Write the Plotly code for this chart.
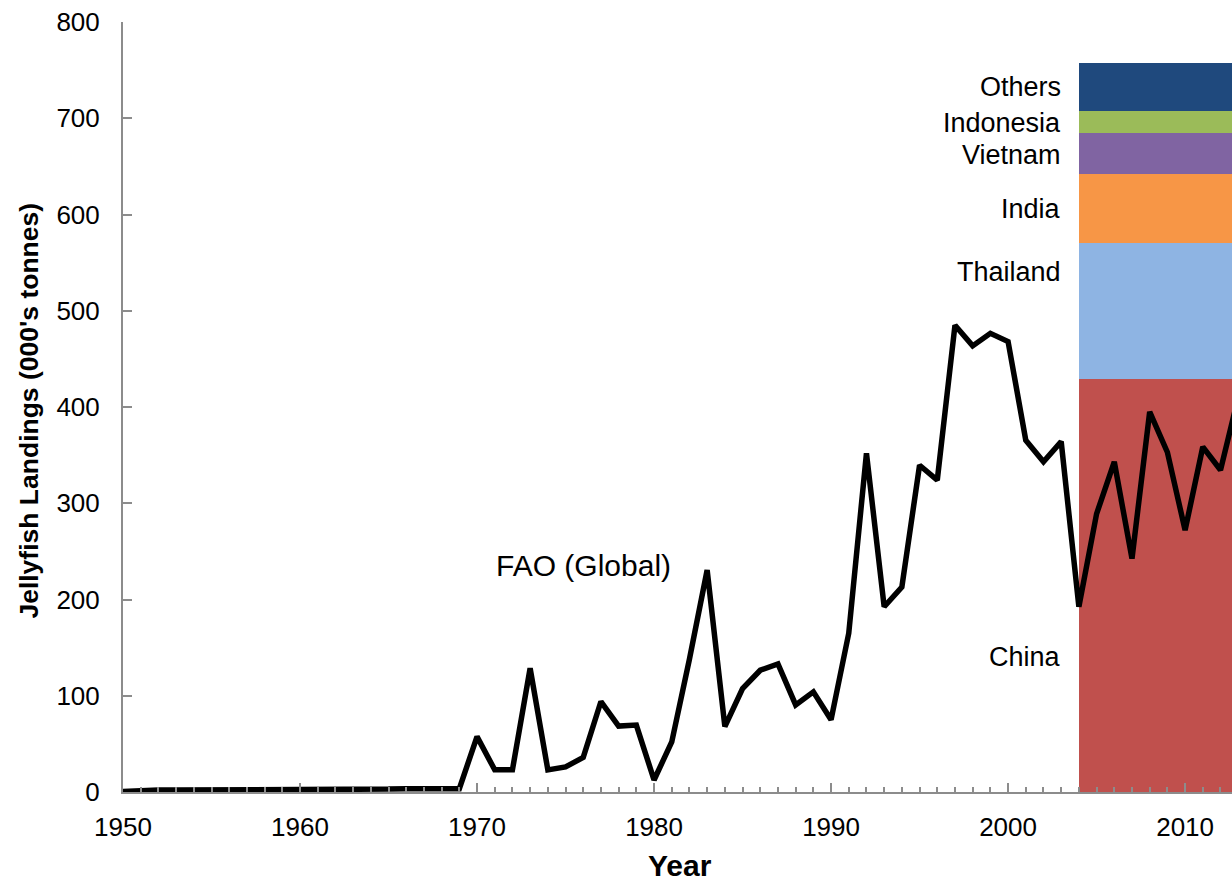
import plotly.graph_objects as go

# Global jellyfish landings reported to FAO, thousand tonnes per year
years = list(range(1950, 2014))
fao_global = [
    0.5, 1.5, 2, 2, 2, 2, 2, 2, 2, 2,          # 1950-1959
    2, 2, 2.5, 2.5, 2.5, 3, 3.5, 3.5, 3.5, 3.5,  # 1960-1969
    57.5, 23, 23, 128.5, 23, 26, 36, 94, 68.5, 69.5,    # 1970-1979
    12.5, 52, 138, 230.5, 68, 107.5, 126.5, 133, 90.5, 104,  # 1980-1989
    75, 165, 352, 192.5, 213, 339.5, 324, 485, 463.5, 476.5,  # 1990-1999
    468, 365.5, 343, 364, 192.5, 289, 343, 242.5, 395, 353,  # 2000-2009
    272, 358.5, 334.5, 410,                        # 2010-2013
]

# Recent landings broken down by country (thousand tonnes), stacked bottom to top
countries = ["China", "Thailand", "India", "Vietnam", "Indonesia", "Others"]
country_landings = [429, 141, 72, 43, 23, 49]
country_colors = ["#C0504D", "#8EB4E3", "#F79646", "#8064A2", "#9BBB59", "#1F497D"]
label_y = [140, 540, 606, 662, 695, 732]

bar_start, bar_end = 2004, 2014

FONT = "Liberation Sans, Arial, sans-serif"
AXIS_GREY = "#8C8C8C"

fig = go.Figure()

for name, val, col in zip(countries, country_landings, country_colors):
    fig.add_trace(go.Bar(
        x=[(bar_start + bar_end) / 2], y=[val], width=[bar_end - bar_start],
        name=name, marker=dict(color=col, line=dict(width=0)),
        showlegend=False, hoverinfo="name+y",
    ))

fig.add_trace(go.Scatter(
    x=years, y=fao_global, mode="lines", name="FAO (Global)",
    line=dict(color="black", width=5.5), showlegend=False,
))

annotations = []
for name, ly in zip(countries, label_y):
    annotations.append(dict(
        x=bar_start, y=ly, xref="x", yref="y", text=name, showarrow=False,
        xanchor="right", yanchor="middle", xshift=-16,
        font=dict(family=FONT, size=27, color="black"),
    ))
annotations.append(dict(
    x=1976, y=235, xref="x", yref="y", text="FAO (Global)", showarrow=False,
    xanchor="center", yanchor="middle",
    font=dict(family=FONT, size=30, color="black"),
))
annotations.append(dict(
    x=-0.085, y=0.495, xref="paper", yref="paper",
    text="<b>Jellyfish Landings (000's tonnes)</b>", showarrow=False,
    textangle=-90, xanchor="center", yanchor="middle",
    font=dict(family=FONT, size=26.5, color="black"),
))
annotations.append(dict(
    x=0.502, y=-0.096, xref="paper", yref="paper", text="<b>Year</b>",
    showarrow=False, xanchor="center", yanchor="middle",
    font=dict(family=FONT, size=30, color="black"),
))

fig.update_layout(
    width=1232, height=883,
    margin=dict(l=123, r=0, t=22, b=91),
    paper_bgcolor="white", plot_bgcolor="white",
    barmode="stack", bargap=0,
    annotations=annotations,
    font=dict(family=FONT, color="black"),
    xaxis=dict(
        range=[1950, 2012.65], tick0=1950, dtick=10,
        showgrid=False, zeroline=False,
        showline=True, linecolor=AXIS_GREY, linewidth=2,
        ticks="inside", ticklen=9, tickwidth=2, tickcolor=AXIS_GREY,
        minor=dict(dtick=1, ticks="inside", ticklen=5, tickwidth=1.5, tickcolor=AXIS_GREY),
        tickfont=dict(family=FONT, size=26, color="black"),
        ticklabelstandoff=11,
    ),
    yaxis=dict(
        range=[0, 800], tick0=0, dtick=100,
        showgrid=False, zeroline=False,
        showline=True, linecolor=AXIS_GREY, linewidth=2,
        ticks="inside", ticklen=9, tickwidth=2, tickcolor=AXIS_GREY,
        tickfont=dict(family=FONT, size=26, color="black"),
        ticklabelstandoff=16,
    ),
)

fig.write_html("out.html")
